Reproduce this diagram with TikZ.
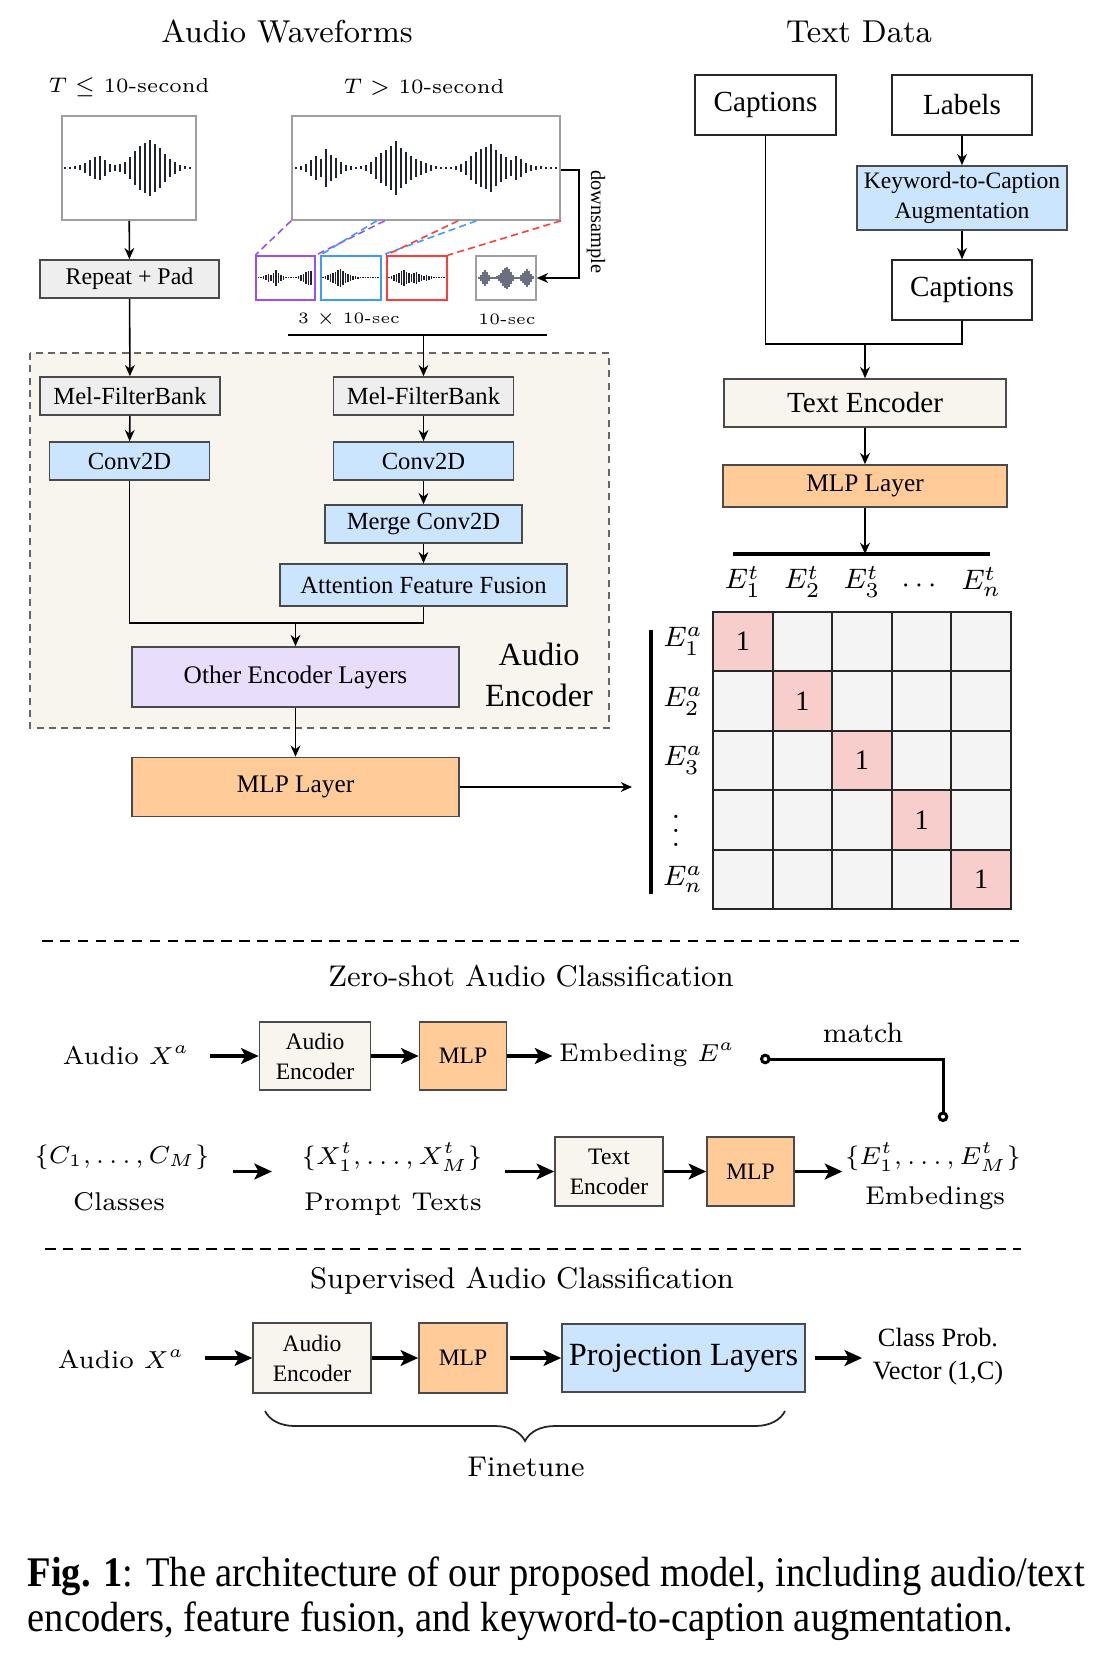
\documentclass[tikz,border=0pt]{standalone}
\usepackage{fontspec}
\usepackage{amsmath}
\usepackage{amssymb}
\usetikzlibrary{arrows.meta,calc,decorations.pathreplacing}
\newfontfamily\tms{Liberation Serif}
\newfontfamily\tmscond[FakeStretch=0.912]{Liberation Serif}

\definecolor{boxgray}{HTML}{EEEEEE}
\definecolor{boxblue}{HTML}{CCE5FF}
\definecolor{boxviolet}{HTML}{E8DEFC}
\definecolor{boxorange}{HTML}{FFCC99}
\definecolor{boxbeige}{HTML}{F7F5EE}
\definecolor{cellgray}{HTML}{F4F4F4}
\definecolor{diagpink}{HTML}{F8CECC}
\definecolor{wavenavy}{HTML}{1E2233}
\definecolor{wavegray}{HTML}{6B7080}
\definecolor{segpurple}{HTML}{9B4DFF}
\definecolor{segblue}{HTML}{3D9BFF}
\definecolor{segred}{HTML}{FF3B3B}
\definecolor{edgegray}{HTML}{4A4A4A}

% draws vertical bars of a waveform: x start, y centre, step, style, half heights
\newcommand{\wavebars}[5]{%
  \foreach[count=\i] \h in {#5}{%
    \draw[#4] ({#1+(\i-1)*#3},{#2-\h}) -- ({#1+(\i-1)*#3},{#2+\h});}}

\tikzset{
  box/.style={draw=edgegray, line width=0.45pt, inner sep=0pt, align=center,
    font=\tms\fontsize{7}{8.5}\selectfont},
  graybox/.style={box, fill=boxgray},
  bluebox/.style={box, fill=boxblue},
  violetbox/.style={box, fill=boxviolet},
  orangebox/.style={box, fill=boxorange},
  beigebox/.style={box, fill=boxbeige},
  plainbox/.style={box, fill=white, draw=black!85, font=\tms\fontsize{8.3}{10}\selectfont},
  smallbox/.style={font=\tms\fontsize{6.7}{8.5}\selectfont},
  wavebox/.style={draw=gray!75, line width=0.45pt, fill=white, inner sep=0pt},
  segbox/.style={line width=0.45pt, fill=white, inner sep=0pt,
    minimum width=0.6cm, minimum height=0.44cm},
  arr/.style={-{Stealth[length=3.2pt,width=2.8pt]}, line width=0.45pt},
  thickarr/.style={-{Stealth[length=5pt,width=4.5pt,inset=1.2pt]}, line width=0.9pt},
  matchline/.style={{Circle[open,length=3pt,width=3pt]}-{Circle[open,length=3pt,width=3pt]},
    line width=0.85pt},
  segline/.style={dash pattern=on 2pt off 1.2pt, line width=0.45pt},
  sepline/.style={dash pattern=on 3pt off 2.1pt, line width=0.6pt},
  wbar/.style={wavenavy, line width=0.5pt},
  sbar/.style={wavenavy, line width=0.3pt},
  gbar/.style={wavegray, line width=0.6pt},
  mytitle/.style={font=\fontsize{9}{11}\selectfont},
  head/.style={font=\fontsize{8.5}{10.5}\selectfont},
  lbl/.style={inner sep=0pt, font=\fontsize{7.3}{9}\selectfont},
  lbls/.style={inner sep=0pt, font=\fontsize{7.3}{9}\selectfont},
  tinylbl/.style={inner sep=0pt, font=\fontsize{4.5}{5.5}\selectfont},
  durlbl/.style={inner sep=0pt, font=\fontsize{5.8}{7}\selectfont},
  mlbl/.style={inner sep=0pt, font=\fontsize{8.3}{10}\selectfont},
  cell/.style={draw=black!85, line width=0.55pt, minimum width=0.596cm,
    minimum height=0.594cm, inner sep=0pt, font=\tms\fontsize{8}{9}\selectfont},
}

\begin{document}
\begin{tikzpicture}[x=0.01cm,y=-0.01cm]
\useasboundingbox (0,0) rectangle (1114,1664);

% audio encoder frame
\draw[dashed, dash pattern=on 2pt off 1.5pt, draw=gray!80!black, line width=0.45pt, fill=boxbeige]
  (30,353) rectangle (609,728);

% titles
\node[mytitle] (tw) at (287,32) {Audio Waveforms};
\node[mytitle] (tt) at (859,32) {Text Data};
\node[durlbl] (tle) at (129,87) {$T \leq$ 10-second};
\node[durlbl] (tgt) at (424,87) {$T >$ 10-second};

% waveforms
\node[wavebox, minimum width=1.34cm, minimum height=1.04cm] (wl) at (129,168) {};
\node[wavebox, minimum width=2.68cm, minimum height=1.04cm] (wr) at (426,168) {};
\wavebars{65}{168}{5}{wbar}{0.6,0.6,1.5,2.5,5,8,11,12,8,4,3,4,6,11,17,22,25,28,24,20,14,9,6,3,1.5,0.6}
\wavebars{296}{168}{5}{wbar}{0.6,2,4,8,12,9,19,13,10,6,3,2,0.6,1.5,3,6,11,15,18,22,27,20,16,12,9,7,5,3,1.5,0.6,0.6,0.6,2,4,7,12,16,19,21,24,18,14,11,8,12,9,5,3,2,1.5,0.6,0.6,0.6}

\node[segbox, draw=segpurple, minimum width=0.59cm] (sp) at (285.5,278) {};
\node[segbox, draw=segblue] (sb) at (351,278) {};
\node[segbox, draw=segred] (sr) at (417,278) {};
\node[segbox, draw=gray!75] (sg) at (506,278) {};
\wavebars{258.5}{278}{2.5}{sbar}{0.5,0.5,1.5,2.5,4,3,5,8,5,3,2,0.5,0.5,0.5,0.5,0.5,1.5,3,4,6,7,7}
\wavebars{323}{278}{2.5}{sbar}{0.5,1.5,2.5,4,5,6,8,9,7,5,4,3,2,1.5,1,0.5,0.5,0.5,0.5,0.5,0.5,0.5,0.5}
\wavebars{389}{278}{2.5}{sbar}{0.5,1.5,3,4,5,7,8,6,5,4,5,6,4,3,2,3,2,1.5,0.5,0.5,0.5,0.5,0.5}
\wavebars{479}{278}{2}{gbar}{0.8,3,6,8,6,3,1,0.8,0.8,1.5,3,5,8,10,11,9,6,3,1,0.8,1,3,5,7,9,7,4,1.5}

\draw[segline, segpurple] (wr.south west) -- (sp.north west);
\draw[segline, segpurple] ($(wr.south west)!0.347!(wr.south east)$) -- (sp.north east);
\draw[segline, segblue] ($(wr.south west)!0.317!(wr.south east)$) -- (sb.north west);
\draw[segline, segblue] ($(wr.south west)!0.687!(wr.south east)$) -- (sb.north east);
\draw[segline, segred] ($(wr.south west)!0.619!(wr.south east)$) -- (sr.north west);
\draw[segline, segred] (wr.south east) -- (sr.north east);

\coordinate (dsa) at (579,170);
\draw[arr] (wr.east |- dsa) -- (dsa) |- (sg.east);
\node[rotate=-90, inner sep=0pt, font=\tms\fontsize{5.8}{7}\selectfont] (ds) at (596,222) {downsample};
\node[tinylbl] (l3) at (349,319) {3 $\times$ 10-sec};
\node[tinylbl] (l10) at (507,319) {10-sec};

% audio branch
\node[graybox, minimum width=1.79cm, minimum height=0.38cm, font=\tms\fontsize{6.8}{8}\selectfont] (repeat) at (129.5,279) {Repeat + Pad};
\node[graybox, minimum width=1.80cm, minimum height=0.38cm] (mel1) at (130,396) {Mel-FilterBank};
\node[bluebox, minimum width=1.60cm, minimum height=0.38cm] (conv1) at (129.5,461) {Conv2D};
\node[graybox, minimum width=1.80cm, minimum height=0.38cm] (mel2) at (423.5,396) {Mel-FilterBank};
\node[bluebox, minimum width=1.80cm, minimum height=0.38cm] (conv2) at (423.5,461) {Conv2D};
\node[bluebox, minimum width=1.97cm, minimum height=0.38cm] (merge) at (423.5,524) {Merge Conv2D};
\node[bluebox, minimum width=2.87cm, minimum height=0.42cm] (aff) at (423.5,585) {Attention Feature Fusion};
\node[violetbox, minimum width=3.27cm, minimum height=0.60cm, font=\tms\fontsize{7.2}{8.5}\selectfont] (other) at (295.5,677) {Other Encoder Layers};
\node[orangebox, minimum width=3.27cm, minimum height=0.59cm, font=\tms\fontsize{7.2}{8.5}\selectfont] (mlpa) at (295.5,787) {MLP Layer};
\node[align=center, font=\tms\fontsize{9.2}{11.7}\selectfont] (aelbl) at (539,675) {Audio\\Encoder};

\coordinate (bl) at (288,335);
\coordinate (br) at (547,335);
\draw[line width=0.45pt] (bl) -- (br);
\draw[arr] (mel2.north |- bl) -- (mel2.north);
\draw[arr] (wl) -- (repeat);
\draw[arr] (repeat) -- (mel1);
\draw[arr] (mel1) -- (conv1);
\draw[arr] (mel2) -- (conv2);
\draw[arr] (conv2) -- (merge);
\draw[arr] (merge) -- (aff);
\coordinate (mj) at (295.5,623);
\draw[line width=0.45pt] (conv1.south) |- (mj) -| (aff.south);
\draw[arr] (mj) -- (other.north);
\draw[arr] (other) -- (mlpa);
\coordinate (mtip) at (632,787);
\draw[arr] (mlpa.east) -- (mtip);

% text branch
\node[plainbox, minimum width=1.41cm, minimum height=0.60cm] (cap1) at (765.5,105) {Captions};
\node[plainbox, minimum width=1.40cm, minimum height=0.60cm] (labels) at (962,105) {Labels};
\node[bluebox, minimum width=2.10cm, minimum height=0.64cm, font=\tms\fontsize{6.7}{8.7}\selectfont] (k2c) at (962,198) {Keyword-to-Caption\\Augmentation};
\node[plainbox, minimum width=1.40cm, minimum height=0.60cm] (cap2) at (962,290) {Captions};
\node[beigebox, minimum width=2.82cm, minimum height=0.48cm, font=\tms\fontsize{8.3}{10}\selectfont] (textenc) at (865,403) {Text Encoder};
\node[orangebox, minimum width=2.84cm, minimum height=0.42cm, font=\tms\fontsize{7.2}{8.5}\selectfont] (mlpt) at (865,486) {MLP Layer};

\coordinate (tj) at (865,344);
\draw[line width=0.45pt] (cap1.south) |- (tj) -| (cap2.south);
\draw[arr] (tj) -- (textenc.north);
\draw[arr] (labels) -- (k2c);
\draw[arr] (k2c) -- (cap2);
\draw[arr] (textenc) -- (mlpt);

% similarity matrix
\coordinate (hl) at (733,554);
\coordinate (hr) at (990,554);
\draw[line width=0.9pt] (hl) -- (hr);
\draw[arr] (mlpt.south) -- (mlpt.south |- hl);
\coordinate (vt) at (651,630);
\coordinate (vb) at (651,894);
\draw[line width=0.9pt] (vt) -- (vb);
\foreach \r in {0,...,4}{
  \foreach \c in {0,...,4}{
    \ifnum\r=\c\relax \def\cellcol{diagpink}\else \def\cellcol{cellgray}\fi
    \node[cell, fill=\cellcol] (c\r\c) at ({742.8+\c*59.6},{641.7+\r*59.4}) {\ifnum\r=\c\relax 1\fi};
  }
}
\node[mlbl] (et1) at (742.8,582) {$E^t_1$};
\node[mlbl] (et2) at (802.4,582) {$E^t_2$};
\node[mlbl] (et3) at (862,582) {$E^t_3$};
\node[mlbl] (etd) at (921.6,586) {$\cdots$};
\node[mlbl] (etn) at (981.2,582) {$E^t_n$};
\node[mlbl] (ea1) at (683,641.7) {$E^a_1$};
\node[mlbl] (ea2) at (683,701.1) {$E^a_2$};
\node[mlbl] (ea3) at (683,760.5) {$E^a_3$};
\node[mlbl] (ead) at (676,819.9) {$\vdots$};
\node[mlbl] (ean) at (683,879.3) {$E^a_n$};

% zero-shot classification
\draw[sepline] (42,941) -- (1019,941);
\node[head] (zs) at (531,976) {Zero-shot Audio Classification};

\node[lbl] (aud1) at (126,1055) {Audio $X^a$};
\node[beigebox, smallbox, minimum width=1.11cm, minimum height=0.68cm] (ae1) at (315,1056) {Audio\\Encoder};
\node[orangebox, smallbox, minimum width=0.87cm, minimum height=0.68cm] (mlp1) at (463,1056) {MLP};
\node[lbl] (emb) at (647,1055) {Embeding $E^a$};
\node[font=\fontsize{8}{10}\selectfont, inner sep=0pt] (match) at (863,1033) {match};
\coordinate (mA) at (760,1059);
\coordinate (mB) at (943,1122);
\draw[matchline] (mA) -| (mB);
\draw[thickarr, shorten <=0.2cm] (aud1.east |- ae1.west) -- (ae1.west);
\draw[thickarr] (ae1) -- (mlp1);
\draw[thickarr, shorten >=0.06cm] (mlp1.east) -- (emb.west |- mlp1.east);

\node[lbl] (cset) at (122,1157) {$\{C_1,\ldots,C_M\}$};
\node[lbls] (cls) at (119,1202) {Classes};
\node[lbl] (xset) at (392,1157) {$\{X^t_1,\ldots,X^t_M\}$};
\node[lbls] (ptx) at (393,1204) {Prompt Texts};
\node[beigebox, smallbox, minimum width=1.08cm, minimum height=0.69cm] (te) at (609,1171.5) {Text\\Encoder};
\node[orangebox, smallbox, minimum width=0.87cm, minimum height=0.69cm] (mlp2) at (750.5,1171.5) {MLP};
\node[lbl] (eset) at (933,1157) {$\{E^t_1,\ldots,E^t_M\}$};
\node[lbls] (embs) at (935,1198) {Embedings};
\draw[thickarr, shorten <=0.23cm, shorten >=0.29cm] (cset.east |- te.west) -- (xset.west |- te.west);
\draw[thickarr, shorten <=0.22cm] (xset.east |- te.west) -- (te.west);
\draw[thickarr] (te) -- (mlp2);
\draw[thickarr, shorten >=0.02cm] (mlp2.east) -- (eset.west |- mlp2.east);

% supervised classification
\draw[sepline] (45,1249) -- (1021,1249);
\node[head] (sv) at (522,1281) {Supervised Audio Classification};

\node[lbl] (aud3) at (121,1359) {Audio $X^a$};
\node[beigebox, smallbox, minimum width=1.18cm, minimum height=0.70cm] (ae3) at (312,1358) {Audio\\Encoder};
\node[orangebox, smallbox, minimum width=0.88cm, minimum height=0.70cm] (mlp3) at (463,1358) {MLP};
\node[bluebox, minimum width=2.43cm, minimum height=0.68cm, font=\tms\fontsize{9.2}{11}\selectfont] (proj) at (683.5,1358) {Projection Layers};
\node[inner sep=0pt, align=center, font=\tms\fontsize{7.5}{9.4}\selectfont] (cls3) at (938,1357) {Class Prob.\\Vector (1,C)};
\draw[thickarr, shorten <=0.2cm] (aud3.east |- ae3.west) -- (ae3.west);
\draw[thickarr] (ae3) -- (mlp3);
\draw[thickarr, shorten <=0.02cm] (mlp3) -- (proj);
\draw[thickarr, shorten <=0.09cm, shorten >=0.1cm] (proj.east) -- (cls3.west |- proj.east);

\coordinate (fl) at (265,1411);
\coordinate (fr) at (785,1411);
\draw[decorate, decoration={brace, mirror, amplitude=0.3cm}, line width=0.5pt, black!85] (fl) -- (fr);
\node[font=\fontsize{8.1}{10}\selectfont] (ft) at (526,1467) {Finetune};

% caption
\node[anchor=base west, inner sep=0pt, font=\tmscond\fontsize{12}{14}\selectfont] (figl1) at (27,1586)
  {\textbf{Fig. 1}: The architecture of our proposed model, including audio/text};
\node[anchor=base west, inner sep=0pt, font=\tmscond\fontsize{12}{14}\selectfont] (figl2) at (27,1631)
  {encoders, feature fusion, and keyword-to-caption augmentation.};

\end{tikzpicture}
\end{document}
